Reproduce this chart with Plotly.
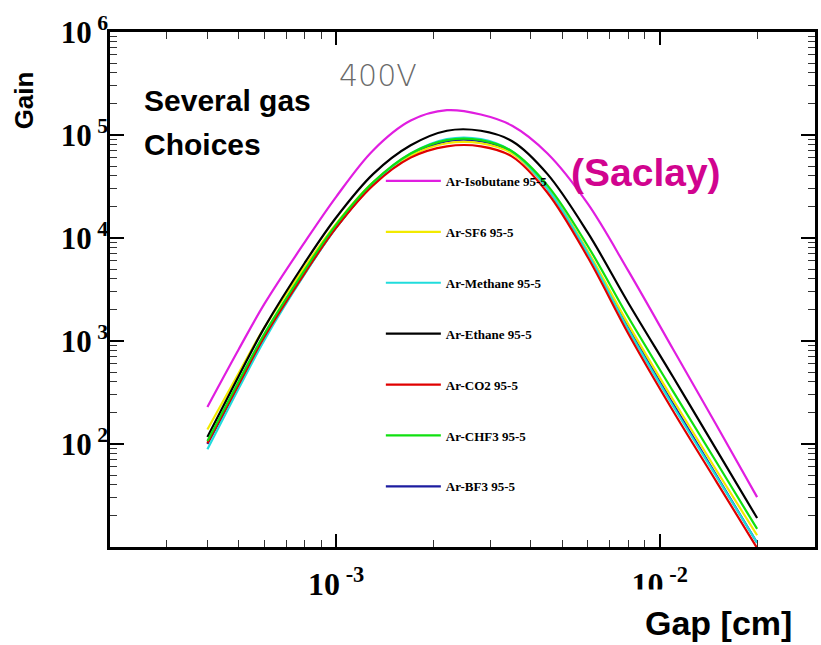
import plotly.graph_objects as go

# Gap (cm) sampling points shared by all gas mixtures
gap_cm = [4.0e-4, 5.0e-4, 6.0e-4, 8.0e-4, 1.0e-3, 1.3e-3, 1.7e-3, 2.2e-3,
          2.8e-3, 3.5e-3, 4.5e-3, 6.0e-3, 8.0e-3, 1.1e-2, 1.5e-2, 2.0e-2]

# Gain at 400 V for each Ar-based mixture
gain_isobutane = [229, 832, 2290, 9120, 25100, 70800, 138000, 174000,
                  158000, 123000, 66100, 21400, 4790, 832, 151, 30.5]
gain_sf6 = [138, 490, 1350, 5250, 13800, 34700, 63100, 83200,
            83200, 66100, 30200, 7410, 1450, 269, 55.0, 13.0]
gain_methane = [89.1, 347, 1020, 4470, 12600, 33900, 66100, 91200,
                91200, 69200, 30200, 7080, 1290, 234, 47.9, 11.0]
gain_ethane = [117, 457, 1350, 5750, 15800, 41700, 79400, 110000,
               110000, 87100, 41700, 11200, 2340, 447, 87.1, 19.1]
gain_co2 = [102, 380, 1100, 4570, 12600, 32400, 60300, 77600,
            77600, 61700, 27500, 6460, 1175, 209, 42.7, 9.77]
gain_chf3 = [107, 407, 1175, 4900, 13500, 34700, 66100, 89100,
             89100, 69200, 32400, 8320, 1700, 324, 66.1, 15.0]
gain_bf3 = [100, 372, 1070, 4570, 12600, 33100, 63100, 87100,
            87100, 67600, 30200, 7240, 1350, 245, 49.0, 11.0]

series_names = ["Ar-Isobutane 95-5", "Ar-SF6 95-5", "Ar-Methane 95-5",
                "Ar-Ethane 95-5", "Ar-CO2 95-5", "Ar-CHF3 95-5", "Ar-BF3 95-5"]
series_gain = [gain_isobutane, gain_sf6, gain_methane, gain_ethane,
               gain_co2, gain_chf3, gain_bf3]
series_color = ["#e01ee0", "#f2ea00", "#20dcdc", "#000000",
                "#e00000", "#10e010", "#1c1ca0"]

x_major = [1e-3, 1e-2]
x_major_text = ["10<sup> -3</sup>", "10<sup> -2</sup>"]
y_major = [1e2, 1e3, 1e4, 1e5, 1e6]
y_major_text = ["10<sup> 2</sup>", "10<sup> 3</sup>", "10<sup> 4</sup>",
                "10<sup> 5</sup>", "10<sup> 6</sup>"]

W, H = 821, 645
ML, MR, MT, MB = 110, 3, 32, 98
PW, PH = W - ML - MR, H - MT - MB


def px(xp):
    return (xp - ML) / PW


def py(yp):
    return 1 - (yp - MT) / PH


fig = go.Figure()
# BF3 is drawn first so the other mixtures sit on top of it
draw_order = [6, 0, 1, 2, 3, 4, 5]
for i in draw_order:
    fig.add_trace(go.Scatter(
        x=gap_cm, y=series_gain[i], name=series_names[i], mode="lines",
        line=dict(color=series_color[i], width=2.2, shape="spline", smoothing=1.0),
        legendgroup=series_names[i], legendrank=i + 1,
    ))

minor_x = [m * 10.0 ** e for e in (-4, -3, -2) for m in range(2, 10)]
minor_y = [m * 10.0 ** e for e in (1, 2, 3, 4, 5) for m in range(2, 10)]

fig.update_xaxes(
    type="log", range=[-3.699, -1.52], showgrid=False, zeroline=False,
    showline=True, linecolor="black", linewidth=2.5, mirror="ticks",
    ticks="inside", ticklen=13, tickwidth=1.5, tickcolor="black",
    tickmode="array", tickvals=x_major, ticktext=x_major_text,
    tickfont=dict(family="Liberation Serif", size=32, color="black", weight="bold"),
    ticklabelstandoff=7,
    minor=dict(tickmode="array", tickvals=minor_x, ticks="inside",
               ticklen=7, tickwidth=1, tickcolor="#333333", showgrid=False),
)
fig.update_yaxes(
    type="log", range=[1, 6], showgrid=False, zeroline=False,
    showline=True, linecolor="black", linewidth=2.5, mirror="ticks",
    ticks="inside", ticklen=14, tickwidth=1.5, tickcolor="black",
    tickmode="array", tickvals=y_major, ticktext=y_major_text,
    tickfont=dict(family="Liberation Serif", size=31, color="black", weight="bold"),
    ticklabelstandoff=-7,
    minor=dict(tickmode="array", tickvals=minor_y, ticks="inside",
               ticklen=7, tickwidth=1, tickcolor="#333333", showgrid=False),
)

sans_bold = "Liberation Sans"
annotations = [
    dict(text="Gain", x=px(24), y=py(100), textangle=-90,
         font=dict(family=sans_bold, size=26, color="black", weight="bold")),
    dict(text="Gap [cm]", x=px(721), y=py(623),
         font=dict(family=sans_bold, size=34, color="black", weight="bold"),
         bgcolor="white", borderpad=14),
    dict(text="Several gas", x=px(142), y=py(101), xanchor="left",
         font=dict(family=sans_bold, size=30, color="black", weight="bold")),
    dict(text="Choices", x=px(142), y=py(144), xanchor="left",
         font=dict(family=sans_bold, size=30, color="black", weight="bold")),
    dict(text="400V", x=px(379), y=py(75),
         font=dict(family="DejaVu Sans", size=30, color="#6a6a6a", weight=200)),
    dict(text="(Saclay)", x=px(648), y=py(172),
         font=dict(family=sans_bold, size=39, color="#d1048f", weight="bold")),
]
for a in annotations:
    a.setdefault("xref", "paper")
    a.setdefault("yref", "paper")
    a.setdefault("showarrow", False)
    a.setdefault("xanchor", "center")
    a.setdefault("yanchor", "middle")

fig.update_layout(
    width=W, height=H,
    margin=dict(l=ML, r=MR, t=MT, b=MB),
    paper_bgcolor="white", plot_bgcolor="white",
    annotations=annotations,
    legend=dict(x=px(382), y=py(166), xanchor="left", yanchor="top",
                bgcolor="rgba(0,0,0,0)", borderwidth=0,
                font=dict(family="Liberation Serif", size=13, color="black", weight="bold"),
                tracegroupgap=31, itemwidth=55, traceorder="grouped"),
    showlegend=True,
)

fig.write_html("out.html")
